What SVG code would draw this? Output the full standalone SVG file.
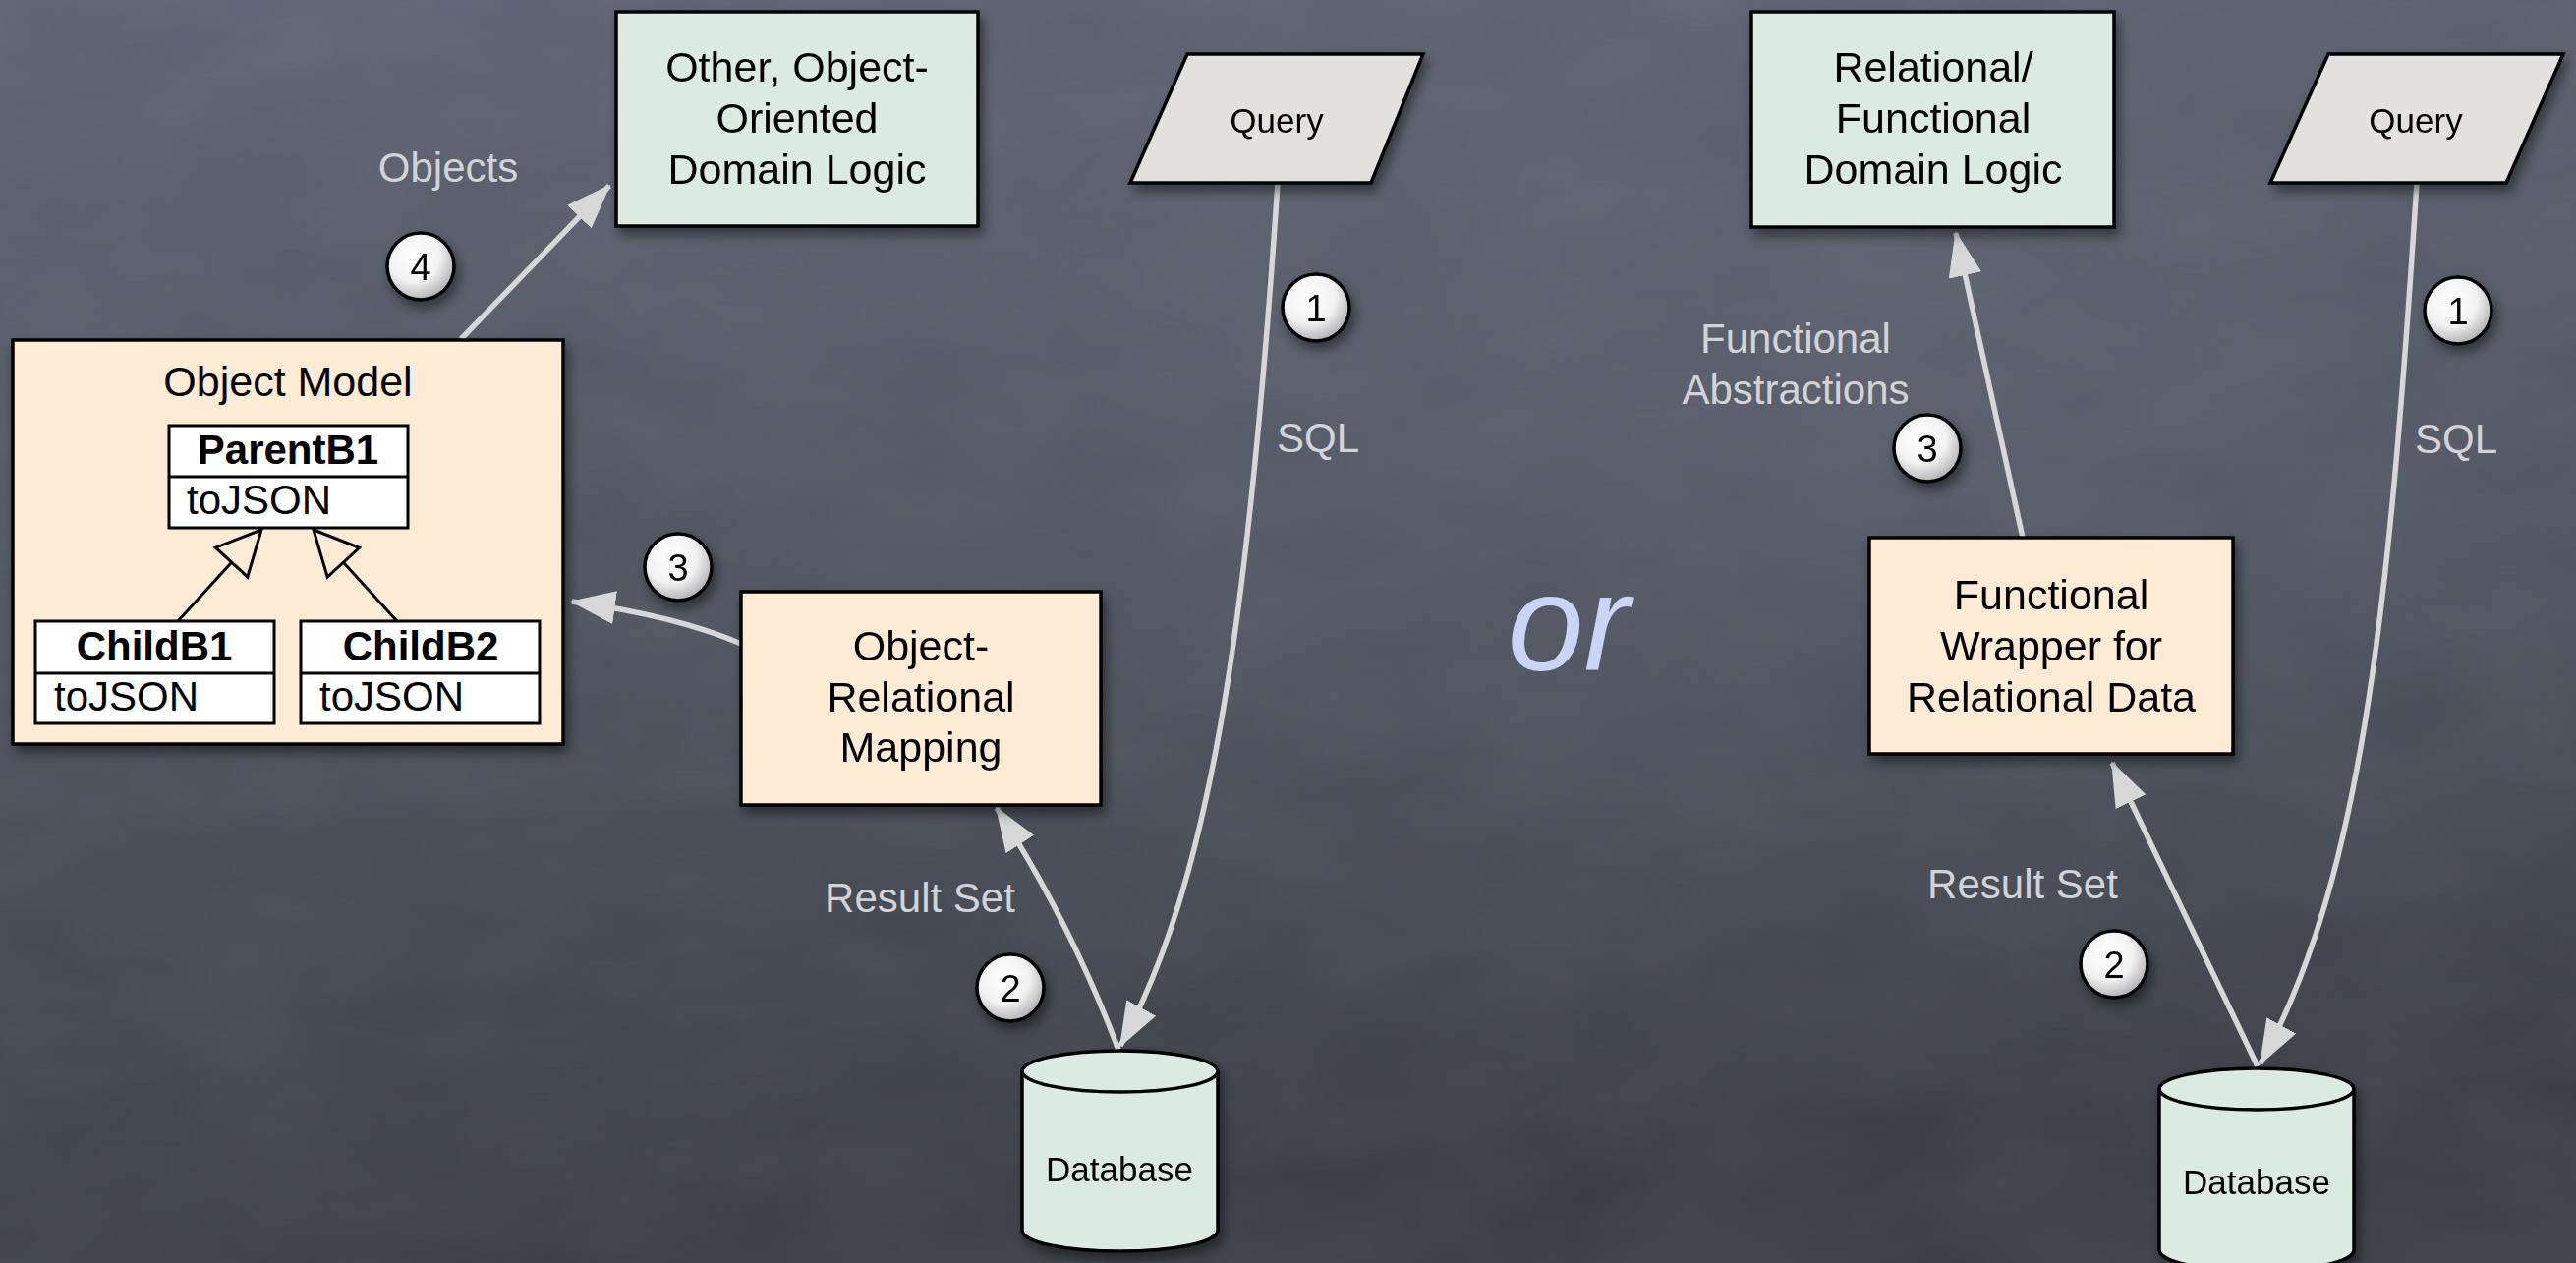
<svg xmlns="http://www.w3.org/2000/svg" width="2621" height="1285" viewBox="0 0 2621 1285">
<defs>
<linearGradient id="bg" x1="0" y1="0" x2="0.25" y2="1">
<stop offset="0" stop-color="#5d6372"/>
<stop offset="0.5" stop-color="#4d525e"/>
<stop offset="1" stop-color="#3a3d46"/>
</linearGradient>
<radialGradient id="bgl" cx="0.75" cy="0.3" r="0.6">
<stop offset="0" stop-color="#6a7080" stop-opacity="0.35"/>
<stop offset="1" stop-color="#6a7080" stop-opacity="0"/>
</radialGradient>
<filter id="tex" x="0" y="0" width="1" height="1">
<feTurbulence type="fractalNoise" baseFrequency="0.006 0.012" numOctaves="3" seed="4"/>
<feColorMatrix type="matrix" values="0 0 0 0 1  0 0 0 0 1  0 0 0 0 1  0 0 0 0.06 0"/>
</filter>
<filter id="sh" x="-20%" y="-20%" width="150%" height="150%">
<feDropShadow dx="4" dy="7" stdDeviation="6" flood-color="#000" flood-opacity="0.45"/>
</filter>
<radialGradient id="badgeFill" cx="0.4" cy="0.35" r="0.7">
<stop offset="0" stop-color="#ffffff"/>
<stop offset="0.55" stop-color="#f2f2f2"/>
<stop offset="1" stop-color="#a9a9ad"/>
</radialGradient>
<marker id="ah" markerUnits="userSpaceOnUse" viewBox="0 0 46 34" markerWidth="46" markerHeight="34" refX="44" refY="17" orient="auto">
<path d="M0,0 L46,17 L0,34 z" fill="#d7d7d7"/>
</marker>
<style>
.box{stroke:#000;stroke-width:3.5}
.green{fill:#dcebe1}
.peach{fill:#feebd6}
.qry{fill:#e3e1dd}
.t{font-family:"Liberation Sans",Arial,Helvetica,sans-serif;fill:#000;text-anchor:middle}
.big{font-size:43px}
.mid{font-size:35px}
.bold{font-weight:bold;font-size:42px}
.reg{font-size:42px}
.lbl{font-family:"Liberation Sans",Arial,Helvetica,sans-serif;font-size:42px;fill:#d2d3d7;text-anchor:middle}
.conn{fill:none;stroke:#d7d7d7;stroke-width:5.5}
.uml{fill:#fff;stroke:#000;stroke-width:3}
.umlline{fill:none;stroke:#000;stroke-width:3}
.tri{fill:#feebd6;stroke:#000;stroke-width:3;stroke-linejoin:miter}
.badge circle{fill:url(#badgeFill);stroke:#000;stroke-width:3.5}
.badge text{font-family:"Liberation Sans",Arial,Helvetica,sans-serif;font-size:38px;fill:#000;text-anchor:middle}
.or{font-family:"Liberation Sans",Arial,Helvetica,sans-serif;font-style:italic;font-size:140px;fill:#c9d4f6;text-anchor:middle}
</style>
</defs>

<rect width="2621" height="1285" fill="url(#bg)"/>
<rect width="2621" height="1285" fill="url(#bgl)"/>
<rect width="2621" height="1285" filter="url(#tex)"/>

<g id="connectors">
<path class="conn" d="M469,345 L620,189" marker-end="url(#ah)"/>
<path class="conn" d="M754,655 Q690,627 582,612" marker-end="url(#ah)"/>
<path class="conn" d="M1300,186 C1270,640 1230,900 1140,1064" marker-end="url(#ah)"/>
<path class="conn" d="M1138,1068 Q1090,940 1014,822" marker-end="url(#ah)"/>
<path class="conn" d="M2058,547 L1990,237" marker-end="url(#ah)"/>
<path class="conn" d="M2459,186 C2430,640 2400,900 2300,1082" marker-end="url(#ah)"/>
<path class="conn" d="M2297,1085 L2149,776" marker-end="url(#ah)"/>
</g>

<g id="other-oo-domain-logic" filter="url(#sh)">
<rect class="box green" x="627" y="12" width="368" height="218"/>
<text class="t big" x="811" y="83">Other, Object-</text>
<text class="t big" x="811" y="135">Oriented</text>
<text class="t big" x="811" y="187">Domain Logic</text>
</g>

<g id="query-left" filter="url(#sh)">
<polygon class="box qry" points="1208,55 1448,55 1395,186 1150,186"/>
<text class="t mid" x="1299" y="135">Query</text>
</g>

<g id="object-model">
<rect class="box peach" x="13" y="346" width="560" height="411" filter="url(#sh)"/>
<text class="t big" x="293" y="403">Object Model</text>
<g id="parentB1">
<rect class="uml" x="172" y="433" width="243" height="104"/>
<line class="umlline" x1="172" y1="485" x2="415" y2="485"/>
<text class="t bold" x="293" y="472">ParentB1</text>
<text class="t reg" x="190" y="523" style="text-anchor:start">toJSON</text>
</g>
<g id="childB1">
<rect class="uml" x="36" y="632" width="243" height="104"/>
<line class="umlline" x1="36" y1="685" x2="279" y2="685"/>
<text class="t bold" x="157" y="672">ChildB1</text>
<text class="t reg" x="55" y="723" style="text-anchor:start">toJSON</text>
</g>
<g id="childB2">
<rect class="uml" x="306" y="632" width="243" height="104"/>
<line class="umlline" x1="306" y1="685" x2="549" y2="685"/>
<text class="t bold" x="428" y="672">ChildB2</text>
<text class="t reg" x="325" y="723" style="text-anchor:start">toJSON</text>
</g>
<g id="generalizations">
<line class="umlline" x1="181" y1="632" x2="235.6" y2="572.2"/>
<polygon class="tri" points="266,539 251.8,586.9 219.4,557.2"/>
<line class="umlline" x1="404" y1="632" x2="349.4" y2="572.2"/>
<polygon class="tri" points="319,539 365.6,557.3 333.2,587.1"/>
</g>
</g>

<g id="orm" filter="url(#sh)">
<rect class="box peach" x="754" y="602" width="366" height="217"/>
<text class="t big" x="937" y="672">Object-</text>
<text class="t big" x="937" y="724">Relational</text>
<text class="t big" x="937" y="775">Mapping</text>
</g>

<g id="database-left" filter="url(#sh)">
<path class="box green" d="M1040,1090 L1040,1252 A99.5,21 0 0 0 1239,1252 L1239,1090 A99.5,21 0 0 0 1040,1090 z"/>
<path fill="none" stroke="#000" stroke-width="3.5" d="M1040,1090 A99.5,21 0 0 0 1239,1090"/>
<text class="t mid" x="1139" y="1202">Database</text>
</g>

<g id="relational-functional-domain-logic" filter="url(#sh)">
<rect class="box green" x="1782" y="12" width="369" height="219"/>
<text class="t big" x="1967" y="83">Relational/</text>
<text class="t big" x="1967" y="135">Functional</text>
<text class="t big" x="1967" y="187">Domain Logic</text>
</g>

<g id="query-right" filter="url(#sh)">
<polygon class="box qry" points="2369,55 2608,55 2550,186 2310,186"/>
<text class="t mid" x="2458" y="135">Query</text>
</g>

<g id="functional-wrapper" filter="url(#sh)">
<rect class="box peach" x="1902" y="547" width="370" height="220"/>
<text class="t big" x="2087" y="620">Functional</text>
<text class="t big" x="2087" y="672">Wrapper for</text>
<text class="t big" x="2087" y="724">Relational Data</text>
</g>

<g id="database-right" filter="url(#sh)">
<path class="box green" d="M2197,1108 L2197,1272 A99,21 0 0 0 2395,1272 L2395,1108 A99,21 0 0 0 2197,1108 z"/>
<path fill="none" stroke="#000" stroke-width="3.5" d="M2197,1108 A99,21 0 0 0 2395,1108"/>
<text class="t mid" x="2296" y="1215">Database</text>
</g>

<g id="labels">
<text class="lbl" x="456" y="185">Objects</text>
<text class="lbl" x="1341" y="460">SQL</text>
<text class="lbl" x="936" y="928">Result Set</text>
<text class="lbl" x="1827" y="359">Functional</text>
<text class="lbl" x="1827" y="411">Abstractions</text>
<text class="lbl" x="2499" y="461">SQL</text>
<text class="lbl" x="2058" y="914">Result Set</text>
<text class="or" x="1596" y="682">or</text>
</g>

<g id="badge-4" class="badge" filter="url(#sh)"><circle cx="428" cy="271" r="34"/><text x="428" y="285">4</text></g>
<g id="badge-3-left" class="badge" filter="url(#sh)"><circle cx="690" cy="577" r="34"/><text x="690" y="591">3</text></g>
<g id="badge-1-left" class="badge" filter="url(#sh)"><circle cx="1339" cy="313" r="34"/><text x="1339" y="327">1</text></g>
<g id="badge-2-left" class="badge" filter="url(#sh)"><circle cx="1028" cy="1005" r="34"/><text x="1028" y="1019">2</text></g>
<g id="badge-3-right" class="badge" filter="url(#sh)"><circle cx="1961" cy="456" r="34"/><text x="1961" y="470">3</text></g>
<g id="badge-1-right" class="badge" filter="url(#sh)"><circle cx="2501" cy="316" r="34"/><text x="2501" y="330">1</text></g>
<g id="badge-2-right" class="badge" filter="url(#sh)"><circle cx="2151" cy="981" r="34"/><text x="2151" y="995">2</text></g>
</svg>
